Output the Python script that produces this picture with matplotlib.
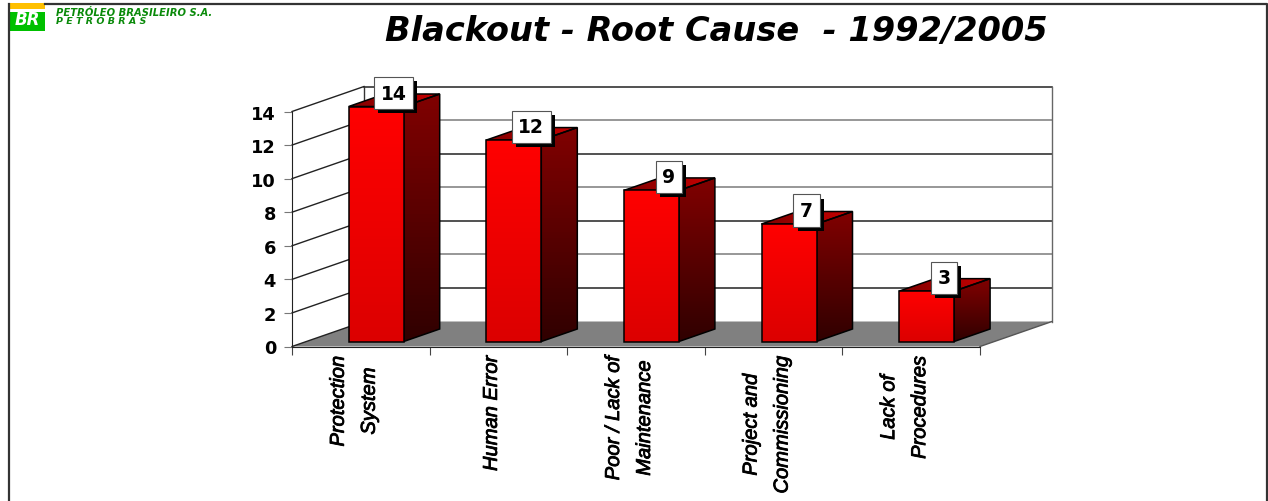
import numpy as np
import matplotlib
matplotlib.use("Agg")
import matplotlib.pyplot as plt
from matplotlib.patches import Polygon, Rectangle
from matplotlib.patheffects import withSimplePatchShadow, withStroke
from matplotlib.transforms import ScaledTranslation
from matplotlib.colors import LinearSegmentedColormap as LSC

title = "Blackout - Root Cause  - 1992/2005"
categories = ["Protection\nSystem", "Human Error", "Poor / Lack of\nMaintenance",
              "Project and\nCommissioning", "Lack of\nProcedures"]
values = [14, 12, 9, 7, 3]
yticks = [0, 2, 4, 6, 8, 10, 12, 14]

W, H = 1268, 502
fig = plt.figure(figsize=(W/100, H/100), dpi=100, facecolor="white")

# page frame + logo in pixel coordinates
bg = fig.add_axes([0, 0, 1, 1]); bg.set_xlim(0, W); bg.set_ylim(H, 0); bg.axis("off")
bg.plot([8.5, 8.5], [H, 5], color="#333333", lw=1.6)
bg.plot([45, 1266.5, 1266.5], [5, 5, H], color="#333333", lw=1.6)
bg.add_patch(Rectangle((9, 4), 36, 6, color="#ffc000", lw=0))
bg.add_patch(Rectangle((9, 13), 36, 19, color="#00c000", lw=0))
bg.text(27, 20, "BR", color="white", ha="center", va="center", fontsize=12,
        family="DejaVu Sans", weight="bold", style="italic")
bg.text(56, 13.5, "PETRÓLEO BRASILEIRO S.A.", color="#0a8a0a", fontsize=7.2, va="center",
        family="DejaVu Sans", weight="bold", style="italic")
bg.text(56, 22, "P E T R O B R A S", color="#0a8a0a", fontsize=6.8, va="center",
        family="DejaVu Sans", weight="bold", style="italic")
bg.text(716, 31, title, ha="center", va="center", fontsize=24.2, family="DejaVu Sans",
        weight="bold", style="italic", color="black")

# chart axes: x = category slots, y = value
L, R, Y0, Y14 = 292, 980, 347.5, 112.5
ax = fig.add_axes([L/W, 1-Y0/H, (R-L)/W, (Y0-Y14)/H])
ax.set_xlim(0, len(values)); ax.set_ylim(0, 14); ax.patch.set_alpha(0)
sx = (R-L)/len(values); sy = (Y0-Y14)/14
DX, DY = 72/sx, 25/sy          # full depth of the 3D box in data units

def p(x, y, z=0.0):
    return (x + z*DX, y + z*DY)

def gradient(poly, top, bottom, horizontal=False, zorder=3):
    pts = np.array(poly)
    cm = LSC.from_list("g", [top, bottom])
    arr = np.linspace(0, 1, 64)
    arr = arr[None, :] if horizontal else arr[:, None]
    im = ax.imshow(arr, cmap=cm, aspect="auto", origin="upper", zorder=zorder,
                   extent=[pts[:, 0].min(), pts[:, 0].max(), pts[:, 1].min(), pts[:, 1].max()])
    ax.add_patch(Polygon(pts, closed=True, fc="none", ec="black", lw=1.1, zorder=zorder+0.1, clip_on=False))
    im.set_clip_box(fig.bbox)
    im.set_clip_path(Polygon(pts, closed=True, transform=ax.transData))

# floor and walls
ax.add_patch(Polygon([p(0, 0), p(5, 0), p(5, 0, 1), p(0, 0, 1)], fc="#808080", ec="none", zorder=1, clip_on=False))
for i, t in enumerate(yticks):
    c = "#7a7a7a" if i % 2 == 0 else "#222222"
    if t:
        ax.plot(*zip(p(0, t, 1), p(5, t, 1)), color=c, lw=1.1, zorder=1, clip_on=False)
    ax.plot(*zip(p(0, t), p(0, t, 1)), color="#222222", lw=1, zorder=1, clip_on=False)
ax.plot(*zip(p(0, 0, 1), p(0, 14, 1)), color="#333333", lw=1, zorder=1, clip_on=False)
ax.plot(*zip(p(5, 0, 1), p(5, 14, 1)), color="#666666", lw=1, zorder=1, clip_on=False)
ax.plot(*zip(p(5, 0), p(5, 0, 1)), color="#555555", lw=1, zorder=1, clip_on=False)

# bars
BW = 55/sx; Z0 = 0.2; Z1 = 0.7
for i, v in enumerate(values):
    x0 = i + 0.5 + 1/sx - BW/2; x1 = x0 + BW
    gradient([p(x1, 0, Z0), p(x1, v, Z0), p(x1, v, Z1), p(x1, 0, Z1)], "#800000", "#300000")
    gradient([p(x0, v, Z0), p(x1, v, Z0), p(x1, v, Z1), p(x0, v, Z1)], "#800000", "#c80000", horizontal=True)
    gradient([p(x0, 0, Z0), p(x1, 0, Z0), p(x1, v, Z0), p(x0, v, Z0)], "#ff0000", "#dc0000", zorder=4)
    t = ax.annotate(str(v), xy=p(x1, v, Z0), xytext=(-10/1.39, 13.5/1.39),
                    textcoords="offset points", ha="center", va="center", zorder=6,
                    annotation_clip=False,
                    family="DejaVu Sans", weight="bold", fontsize=13.5, color="black",
                    bbox=dict(boxstyle="square,pad=0.35", fc="white", ec="#555555", lw=0.8))
    t.get_bbox_patch().set_path_effects([withSimplePatchShadow(offset=(3, -3), shadow_rgbFace="black", alpha=1)])

# axes / ticks
for s in ("top", "right"):
    ax.spines[s].set_visible(False)
ax.spines["bottom"].set_zorder(2); ax.spines["left"].set_zorder(2)
ax.spines["left"].set_color("#222222"); ax.spines["bottom"].set_color("#222222")
ax.set_yticks(yticks)
ax.set_yticklabels([str(t) for t in yticks], family="DejaVu Sans", weight="bold", fontsize=12.8)
ax.tick_params(axis="y", length=6, color="#777777", pad=5.5)
ax.set_xticks(range(len(values)+1)); ax.set_xticklabels([])
ax.tick_params(axis="x", which="major", length=6, color="#444444")
ax.set_xticks([i+0.5 for i in range(len(values))], minor=True)
ax.set_xticklabels(categories, minor=True, rotation=90, ha="center", va="top", ma="center",
                   family="Liberation Sans", style="italic",
                   fontsize=14.5, linespacing=1.8, color="black")
ax.tick_params(axis="x", which="minor", length=0, pad=6.5)
off = ScaledTranslation(-7/100, 0, fig.dpi_scale_trans)
for lab in ax.get_xticklabels(minor=True):
    lab.set_transform(lab.get_transform() + off)
    lab.set_path_effects([withStroke(linewidth=0.6, foreground="black")])

fig.savefig("out.png", dpi=100)
